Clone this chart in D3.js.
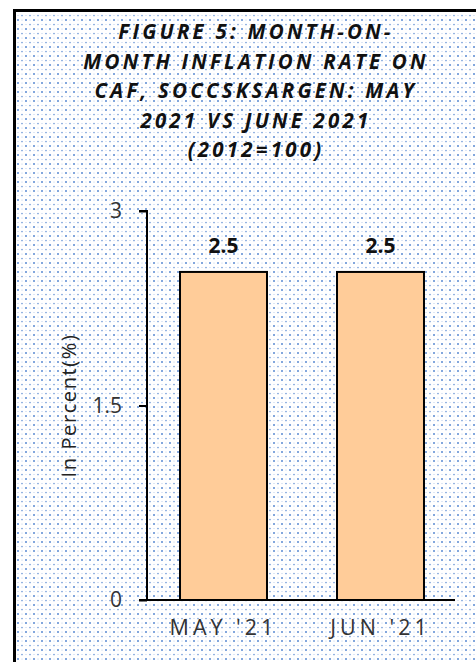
<!DOCTYPE html>
<html>
<head>
<meta charset="utf-8">
<script src="https://cdn.jsdelivr.net/npm/d3@7/dist/d3.min.js"></script>
<style>
  html, body { margin: 0; padding: 0; background: #fff; }
  svg { display: block; }
</style>
</head>
<body>
<script>
const categories = ["MAY '21", "JUN '21"];
const values = [2.53, 2.53];
const valueLabels = ["2.5", "2.5"];
const yTicks = [0, 1.5, 3];
const yTickLabels = ["0", "1.5", "3"];
const titleLines = [
  "FIGURE 5: MONTH-ON-",
  "MONTH INFLATION RATE ON",
  "CAF, SOCCSKSARGEN: MAY",
  "2021 VS JUNE 2021",
  "(2012=100)"
];
const yAxisTitle = "In Percent(%)";

const W = 476, H = 662;
const svg = d3.select("body").append("svg").attr("width", W).attr("height", H);

// dotted background pattern
const defs = svg.append("defs");
const pat = defs.append("pattern").attr("id", "dots")
  .attr("patternUnits", "userSpaceOnUse").attr("width", 8).attr("height", 9);
pat.append("rect").attr("width", 8).attr("height", 9).attr("fill", "#fff");
[[2, 2, 1.0, 0.85], [6, 6.5, 0.85, 0.7], [6, 2, 0.55, 0.4], [2, 6.5, 0.55, 0.4]]
  .forEach(([cx, cy, r, o]) => pat.append("circle").attr("cx", cx).attr("cy", cy).attr("r", r)
    .attr("fill", "#3b74c9").attr("opacity", o));

svg.append("rect").attr("x", 14.5).attr("y", 10.5).attr("width", W + 20).attr("height", H + 20)
  .attr("fill", "url(#dots)").attr("stroke", "#000").attr("stroke-width", 3);

// title
const title = svg.append("text")
  .attr("text-anchor", "middle")
  .attr("font-family", "'Open Sans', sans-serif")
  .attr("font-weight", "bold").attr("font-style", "italic")
  .attr("font-size", 20.5).attr("letter-spacing", 3.2).attr("fill", "#111");
titleLines.forEach((t, i) => title.append("tspan").attr("x", 256).attr("y", 39 + i * 29.5).text(t));

const y = d3.scaleLinear().domain([0, 3]).range([600, 211]);
const x = d3.scaleBand().domain(categories).range([145, 459]).paddingInner(0.446).paddingOuter(0.223);

// y axis
const yAxis = d3.axisLeft(y).tickValues(yTicks).tickFormat((d, i) => yTickLabels[i])
  .tickSize(8).tickPadding(17);
const gy = svg.append("g").attr("transform", "translate(147,0)").call(yAxis);
gy.select(".domain").attr("stroke", "#000").attr("stroke-width", 2).attr("d", "M-8,211H0V600");
gy.selectAll(".tick line").attr("stroke", "#000").attr("stroke-width", 2);
gy.selectAll(".tick text").attr("font-family", "'Open Sans', sans-serif")
  .attr("font-size", 21).attr("fill", "#333");

// bars
svg.append("g").selectAll("rect").data(values).join("rect")
  .attr("x", (d, i) => x(categories[i]))
  .attr("y", d => y(d))
  .attr("width", x.bandwidth())
  .attr("height", d => y(0) - y(d))
  .attr("fill", "#FFCC99").attr("stroke", "#000").attr("stroke-width", 2);

// x axis
const xAxis = d3.axisBottom(x).tickSize(0).tickPadding(20);
const gx = svg.append("g").attr("transform", "translate(0,600)").call(xAxis);
gx.select(".domain").attr("stroke", "#000").attr("stroke-width", 2).attr("d", "M139,0H455");
gx.selectAll(".tick text").attr("font-family", "'Open Sans', sans-serif")
  .attr("font-size", 21.5).attr("letter-spacing", 4).attr("fill", "#333");

// value labels
svg.append("g").selectAll("text").data(values).join("text")
  .attr("x", (d, i) => x(categories[i]) + x.bandwidth() / 2)
  .attr("y", d => y(d) - 19)
  .attr("text-anchor", "middle")
  .attr("font-family", "'Open Sans', sans-serif").attr("font-weight", "bold")
  .attr("font-size", 21).attr("fill", "#111")
  .text((d, i) => valueLabels[i]);

// y axis title
svg.append("text")
  .attr("transform", `translate(76,${(y(0) + y(3)) / 2}) rotate(-90)`)
  .attr("text-anchor", "middle")
  .attr("font-family", "'Open Sans', sans-serif")
  .attr("font-size", 20).attr("letter-spacing", 1.6).attr("fill", "#222")
  .text(yAxisTitle);
</script>
</body>
</html>
